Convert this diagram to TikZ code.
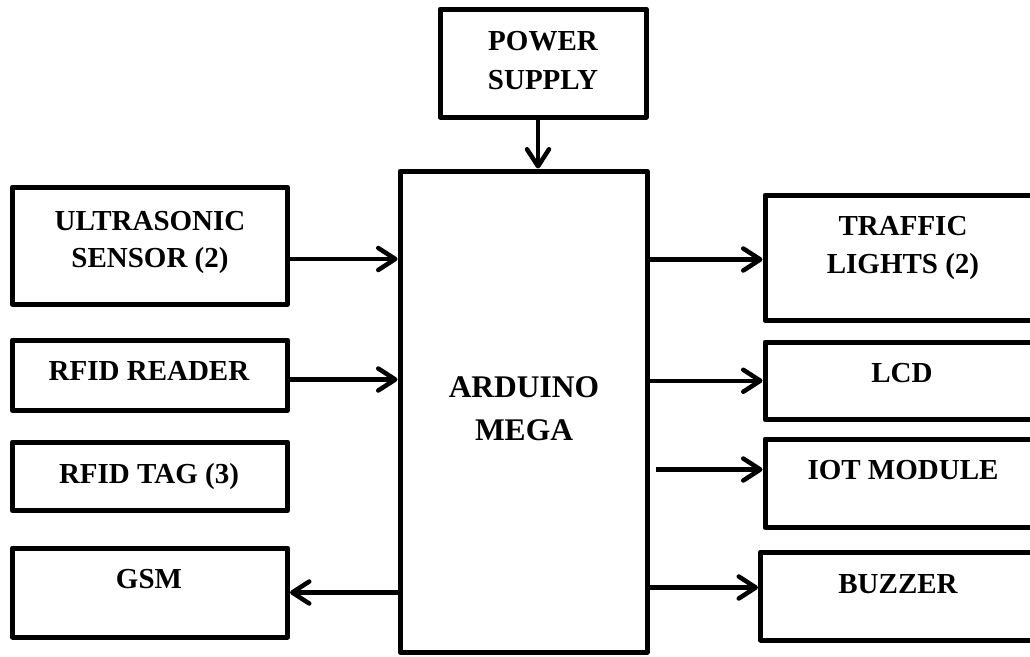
\documentclass[tikz,border=0pt]{standalone}
\usepackage{fontspec}
\setmainfont{Liberation Serif}
\usetikzlibrary{arrows.meta}
\begin{document}
\begin{tikzpicture}[x=1pt,y=-1pt,
  box/.style={draw=black,line width=5pt,line join=round,rectangle,inner sep=0pt,fill=none},
  lbl/.style={font=\bfseries\fontsize{29}{38}\selectfont,align=center,anchor=base,inner sep=0pt},
  arr/.style={line width=4.5pt,-{Straight Barb[length=17pt,width=22pt,line cap=round,line join=round]}}]
\useasboundingbox (0,0) rectangle (1030,656);
% boxes
\node[box,minimum width=206pt,minimum height=108pt] (power) at (543,63) {};
\node[box,minimum width=247pt,minimum height=481pt] (ard) at (523.5,411.5) {};
\node[box,minimum width=275pt,minimum height=117.5pt] (ultra) at (150,245.75) {};
\node[box,minimum width=275pt,minimum height=70.5pt] (reader) at (150,375.25) {};
\node[box,minimum width=275pt,minimum height=68.5pt] (tag) at (150,476.25) {};
\node[box,minimum width=275pt,minimum height=89pt] (gsm) at (150,592.5) {};
\node[box,minimum width=275pt,minimum height=125.5pt] (traffic) at (902.5,257.75) {};
\node[box,minimum width=275pt,minimum height=77.5pt] (lcd) at (902.5,380.75) {};
\node[box,minimum width=275pt,minimum height=88.5pt] (iot) at (902.5,483.25) {};
\node[box,minimum width=275pt,minimum height=88pt] (buzzer) at (898,596) {};
% labels (anchor=base = baseline of the last line)
\node[lbl,font=\bfseries\fontsize{29}{39}\selectfont] (powerT) at (543,89.3) {POWER\\SUPPLY};
\node[lbl,font=\bfseries\fontsize{31.5}{43}\selectfont] (ardT) at (524,440) {ARDUINO\\MEGA};
\node[lbl,font=\bfseries\fontsize{29}{37}\selectfont] (ultraT) at (150,267) {ULTRASONIC\\SENSOR (2)};
\node[lbl] (readerT) at (149,380.5) {RFID READER};
\node[lbl] (tagT) at (149,483) {RFID TAG (3)};
\node[lbl] (gsmT) at (149,588) {GSM};
\node[lbl] (trafficT) at (903,273.3) {TRAFFIC\\LIGHTS (2)};
\node[lbl] (lcdT) at (902,382.5) {LCD};
\node[lbl] (iotT) at (903,479) {IOT MODULE};
\node[lbl] (buzzerT) at (898,593) {BUZZER};
% connectors
\draw[arr] ([xshift=-5pt]power.south) -- ([xshift=-5pt]power.south |- ard.north);
\draw[arr] ([yshift=-13.25pt]ultra.east) -- ([yshift=-13.25pt]ultra.east -| ard.west);
\draw[arr] ([yshift=-4.25pt]reader.east) -- ([yshift=-4.25pt]reader.east -| ard.west);
\draw[arr] (gsm.east -| ard.west) -- (gsm.east);
\draw[arr] ([yshift=-1.75pt]traffic.west -| ard.east) -- ([yshift=-1.75pt]traffic.west);
\draw[arr] (lcd.west -| ard.east) -- (lcd.west);
\draw[arr] ([xshift=6pt,yshift=13.75pt]iot.west -| ard.east) -- ([yshift=13.75pt]iot.west);
\draw[arr] ([yshift=8.5pt]buzzer.west -| ard.east) -- ([yshift=8.5pt]buzzer.west);
\end{tikzpicture}
\end{document}
